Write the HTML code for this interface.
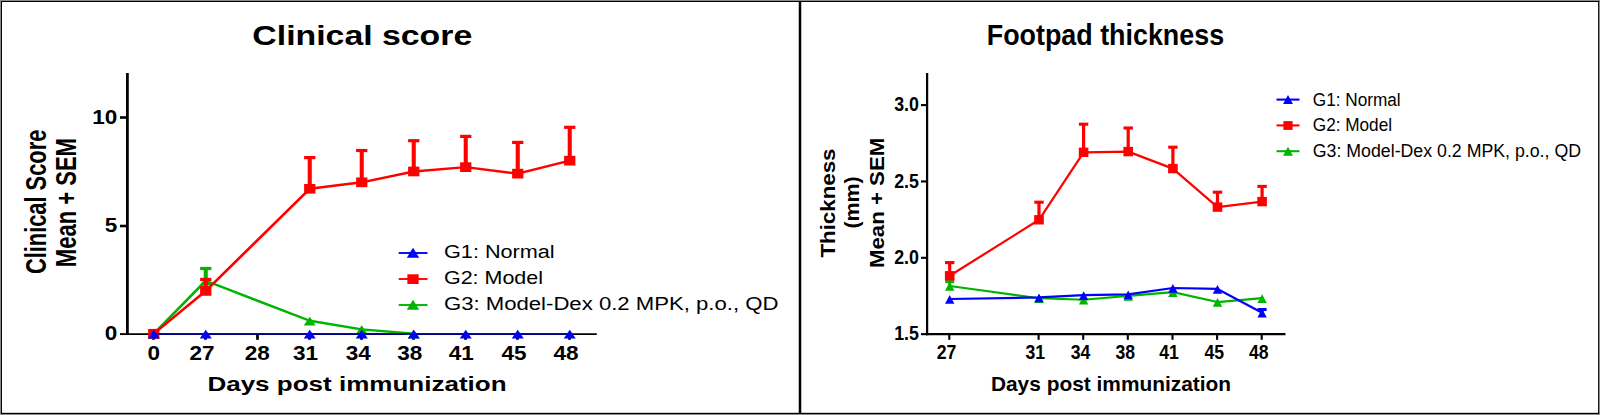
<!DOCTYPE html>
<html><head><meta charset="utf-8"><title>Charts</title>
<style>
html,body{margin:0;padding:0;background:#fff;}
body{width:1600px;height:415px;overflow:hidden;position:relative;}
svg{position:absolute;left:0;top:0;font-family:"Liberation Sans",sans-serif;}
</style></head><body>
<svg width="1600" height="415" viewBox="0 0 1600 415">
<rect x="0" y="0" width="1600" height="415" fill="#8a8a8a"/>
<rect x="1" y="1" width="1598" height="413" fill="#000"/>
<rect x="2" y="2" width="1596.1" height="410.8" fill="#fff"/>
<rect x="798.75" y="1" width="2.5" height="413" fill="#000"/>
<g transform="scale(1.2,1)">
<path d="M106.17 73.0V335.05" fill="none" stroke="#000" stroke-width="2.3"/>
<path d="M105.02 334.1H497.33" fill="none" stroke="#000" stroke-width="1.9"/>
<path d="M127.92 334.1V339.8" stroke="#000" stroke-width="2.3"/>
<path d="M171.25 334.1V339.8" stroke="#000" stroke-width="2.3"/>
<path d="M214.58 334.1V339.8" stroke="#000" stroke-width="2.3"/>
<path d="M257.92 334.1V339.8" stroke="#000" stroke-width="2.3"/>
<path d="M301.25 334.1V339.8" stroke="#000" stroke-width="2.3"/>
<path d="M344.58 334.1V339.8" stroke="#000" stroke-width="2.3"/>
<path d="M387.92 334.1V339.8" stroke="#000" stroke-width="2.3"/>
<path d="M431.25 334.1V339.8" stroke="#000" stroke-width="2.3"/>
<path d="M474.58 334.1V339.8" stroke="#000" stroke-width="2.3"/>
<path d="M100.00 334.10H106.17" stroke="#000" stroke-width="1.9"/>
<path d="M100.00 226.00H106.17" stroke="#000" stroke-width="2.6"/>
<path d="M100.00 117.50H106.17" stroke="#000" stroke-width="2.6"/>
<polyline points="128.12,333.75 171.46,280.74 258.12,320.77 301.46,329.42 344.79,333.75" fill="none" stroke="#00b400" stroke-width="2.4" stroke-linejoin="round"/>
<path d="M171.46 280.74V268.50" fill="none" stroke="#00b400" stroke-width="3.4"/>
<path d="M166.76 268.50H176.16" fill="none" stroke="#00b400" stroke-width="3.2"/>
<path d="M128.12 329.70L133.12 338.60H123.12Z" fill="#00b400"/>
<path d="M171.46 276.69L176.46 285.59H166.46Z" fill="#00b400"/>
<path d="M258.12 316.72L263.12 325.62H253.12Z" fill="#00b400"/>
<path d="M301.46 325.37L306.46 334.27H296.46Z" fill="#00b400"/>
<path d="M344.79 329.70L349.79 338.60H339.79Z" fill="#00b400"/>
<polyline points="128.12,333.75 171.46,290.91 258.12,188.80 301.46,182.31 344.79,171.49 388.12,167.16 431.46,173.65 474.79,160.67" fill="none" stroke="#ff0000" stroke-width="2.4" stroke-linejoin="round"/>
<path d="M171.46 290.91V279.40" fill="none" stroke="#ff0000" stroke-width="3.4"/>
<path d="M166.76 279.40H176.16" fill="none" stroke="#ff0000" stroke-width="3.2"/>
<path d="M258.12 188.80V157.60" fill="none" stroke="#ff0000" stroke-width="3.4"/>
<path d="M253.43 157.60H262.82" fill="none" stroke="#ff0000" stroke-width="3.2"/>
<path d="M301.46 182.31V150.50" fill="none" stroke="#ff0000" stroke-width="3.4"/>
<path d="M296.76 150.50H306.16" fill="none" stroke="#ff0000" stroke-width="3.2"/>
<path d="M344.79 171.49V140.70" fill="none" stroke="#ff0000" stroke-width="3.4"/>
<path d="M340.09 140.70H349.49" fill="none" stroke="#ff0000" stroke-width="3.2"/>
<path d="M388.12 167.16V136.40" fill="none" stroke="#ff0000" stroke-width="3.4"/>
<path d="M383.43 136.40H392.82" fill="none" stroke="#ff0000" stroke-width="3.2"/>
<path d="M431.46 173.65V142.40" fill="none" stroke="#ff0000" stroke-width="3.4"/>
<path d="M426.76 142.40H436.16" fill="none" stroke="#ff0000" stroke-width="3.2"/>
<path d="M474.79 160.67V127.30" fill="none" stroke="#ff0000" stroke-width="3.4"/>
<path d="M470.09 127.30H479.49" fill="none" stroke="#ff0000" stroke-width="3.2"/>
<rect x="123.42" y="328.90" width="9.4" height="9.7" fill="#ff0000"/>
<rect x="166.76" y="286.06" width="9.4" height="9.7" fill="#ff0000"/>
<rect x="253.43" y="183.95" width="9.4" height="9.7" fill="#ff0000"/>
<rect x="296.76" y="177.46" width="9.4" height="9.7" fill="#ff0000"/>
<rect x="340.09" y="166.64" width="9.4" height="9.7" fill="#ff0000"/>
<rect x="383.43" y="162.31" width="9.4" height="9.7" fill="#ff0000"/>
<rect x="426.76" y="168.80" width="9.4" height="9.7" fill="#ff0000"/>
<rect x="470.09" y="155.82" width="9.4" height="9.7" fill="#ff0000"/>
<polyline points="128.12,333.75 171.46,333.75 258.12,333.75 301.46,333.75 344.79,333.75 388.12,333.75 431.46,333.75 474.79,333.75" fill="none" stroke="#0000ff" stroke-width="1.5" stroke-linejoin="round"/>
<path d="M128.12 329.70L133.12 338.60H123.12Z" fill="#0000ff"/>
<path d="M171.46 329.70L176.46 338.60H166.46Z" fill="#0000ff"/>
<path d="M258.12 329.70L263.12 338.60H253.12Z" fill="#0000ff"/>
<path d="M301.46 329.70L306.46 338.60H296.46Z" fill="#0000ff"/>
<path d="M344.79 329.70L349.79 338.60H339.79Z" fill="#0000ff"/>
<path d="M388.12 329.70L393.12 338.60H383.12Z" fill="#0000ff"/>
<path d="M431.46 329.70L436.46 338.60H426.46Z" fill="#0000ff"/>
<path d="M474.79 329.70L479.79 338.60H469.79Z" fill="#0000ff"/>
<path d="M332.25 253H356.25" stroke="#0000ff" stroke-width="1.9"/>
<path d="M344.17 247.8L349.37 257.7H338.97Z" fill="#0000ff"/>
<path d="M332.25 279H356.25" stroke="#ff0000" stroke-width="1.9"/>
<rect x="339.47" y="274.3" width="9.4" height="9.7" fill="#ff0000"/>
<path d="M332.25 305H356.25" stroke="#00b400" stroke-width="1.9"/>
<path d="M344.17 299.8L349.37 309.7H338.97Z" fill="#00b400"/>
</g>
<text transform="translate(153.70,359.55) scale(1.105,1)" font-size="20.4" font-weight="bold" text-anchor="middle" fill="#000">0</text>
<text transform="translate(202.00,359.55) scale(1.105,1)" font-size="20.4" font-weight="bold" text-anchor="middle" fill="#000">27</text>
<text transform="translate(257.30,359.55) scale(1.105,1)" font-size="20.4" font-weight="bold" text-anchor="middle" fill="#000">28</text>
<text transform="translate(305.50,359.55) scale(1.105,1)" font-size="20.4" font-weight="bold" text-anchor="middle" fill="#000">31</text>
<text transform="translate(358.20,359.55) scale(1.105,1)" font-size="20.4" font-weight="bold" text-anchor="middle" fill="#000">34</text>
<text transform="translate(409.80,359.55) scale(1.105,1)" font-size="20.4" font-weight="bold" text-anchor="middle" fill="#000">38</text>
<text transform="translate(461.30,359.55) scale(1.105,1)" font-size="20.4" font-weight="bold" text-anchor="middle" fill="#000">41</text>
<text transform="translate(514.00,359.55) scale(1.105,1)" font-size="20.4" font-weight="bold" text-anchor="middle" fill="#000">45</text>
<text transform="translate(566.00,359.55) scale(1.105,1)" font-size="20.4" font-weight="bold" text-anchor="middle" fill="#000">48</text>
<text transform="translate(117.20,340.40) scale(1.105,1)" font-size="20.4" font-weight="bold" text-anchor="end" fill="#000">0</text>
<text transform="translate(117.20,232.30) scale(1.105,1)" font-size="20.4" font-weight="bold" text-anchor="end" fill="#000">5</text>
<text transform="translate(117.20,123.80) scale(1.105,1)" font-size="20.4" font-weight="bold" text-anchor="end" fill="#000">10</text>
<text transform="translate(362.30,44.60) scale(1.195,1)" font-size="28.3" font-weight="bold" text-anchor="middle" fill="#000">Clinical score</text>
<text transform="translate(357.00,391.25) scale(1.2516,1)" font-size="20.8" font-weight="bold" text-anchor="middle" fill="#000">Days post immunization</text>
<text transform="translate(45.50,201.90) rotate(-90) scale(1.0,1.35)" font-size="21.85" font-weight="bold" text-anchor="middle" fill="#000">Clinical Score</text>
<text transform="translate(75.70,202.60) rotate(-90) scale(1.0,1.34)" font-size="22.05" font-weight="bold" text-anchor="middle" fill="#000">Mean + SEM</text>
<text transform="translate(444.00,258.45) scale(1.203,1)" font-size="18.0" font-weight="normal" text-anchor="start" fill="#000">G1: Normal</text>
<text transform="translate(444.00,284.15) scale(1.193,1)" font-size="18.0" font-weight="normal" text-anchor="start" fill="#000">G2: Model</text>
<text transform="translate(444.00,309.85) scale(1.23,1)" font-size="18.0" font-weight="normal" text-anchor="start" fill="#000">G3: Model-Dex 0.2 MPK, p.o., QD</text>
<path d="M927.1 73V335.2" fill="none" stroke="#000" stroke-width="2.25"/>
<path d="M926.0 334.15H1285.5" fill="none" stroke="#000" stroke-width="2.1"/>
<path d="M949.3 334.15V339.8" stroke="#000" stroke-width="2.1"/>
<text transform="translate(946.50,359.40) scale(0.9,1)" font-size="19.6" font-weight="bold" text-anchor="middle" fill="#000">27</text>
<path d="M1038.6 334.15V339.8" stroke="#000" stroke-width="2.1"/>
<text transform="translate(1035.30,359.40) scale(0.9,1)" font-size="19.6" font-weight="bold" text-anchor="middle" fill="#000">31</text>
<path d="M1083.2 334.15V339.8" stroke="#000" stroke-width="2.1"/>
<text transform="translate(1080.50,359.40) scale(0.9,1)" font-size="19.6" font-weight="bold" text-anchor="middle" fill="#000">34</text>
<path d="M1127.8 334.15V339.8" stroke="#000" stroke-width="2.1"/>
<text transform="translate(1125.20,359.40) scale(0.9,1)" font-size="19.6" font-weight="bold" text-anchor="middle" fill="#000">38</text>
<path d="M1172.5 334.15V339.8" stroke="#000" stroke-width="2.1"/>
<text transform="translate(1169.00,359.40) scale(0.9,1)" font-size="19.6" font-weight="bold" text-anchor="middle" fill="#000">41</text>
<path d="M1217.1 334.15V339.8" stroke="#000" stroke-width="2.1"/>
<text transform="translate(1214.20,359.40) scale(0.9,1)" font-size="19.6" font-weight="bold" text-anchor="middle" fill="#000">45</text>
<path d="M1261.7 334.15V339.8" stroke="#000" stroke-width="2.1"/>
<text transform="translate(1258.70,359.40) scale(0.9,1)" font-size="19.6" font-weight="bold" text-anchor="middle" fill="#000">48</text>
<path d="M921 334.15H927.1" stroke="#000" stroke-width="2.1"/>
<text transform="translate(918.90,340.45) scale(0.9,1)" font-size="19.8" font-weight="bold" text-anchor="end" fill="#000">1.5</text>
<path d="M921 257.80H927.1" stroke="#000" stroke-width="2.1"/>
<text transform="translate(918.90,264.10) scale(0.9,1)" font-size="19.8" font-weight="bold" text-anchor="end" fill="#000">2.0</text>
<path d="M921 181.45H927.1" stroke="#000" stroke-width="2.1"/>
<text transform="translate(918.90,187.75) scale(0.9,1)" font-size="19.8" font-weight="bold" text-anchor="end" fill="#000">2.5</text>
<path d="M921 105.10H927.1" stroke="#000" stroke-width="2.1"/>
<text transform="translate(918.90,111.40) scale(0.9,1)" font-size="19.8" font-weight="bold" text-anchor="end" fill="#000">3.0</text>
<text transform="translate(1105.40,44.70) scale(0.917,1)" font-size="29.3" font-weight="bold" text-anchor="middle" fill="#000">Footpad thickness</text>
<text transform="translate(1111.00,391.25) scale(0.995,1)" font-size="21.0" font-weight="bold" text-anchor="middle" fill="#000">Days post immunization</text>
<text transform="translate(835.00,203.05) rotate(-90) scale(1.145,1.06)" font-size="19.5" font-weight="bold" text-anchor="middle" fill="#000">Thickness</text>
<text transform="translate(859.30,202.50) rotate(-90) scale(1.095,1.06)" font-size="19.5" font-weight="bold" text-anchor="middle" fill="#000">(mm)</text>
<text transform="translate(884.30,202.90) rotate(-90) scale(1.14,1.06)" font-size="19.5" font-weight="bold" text-anchor="middle" fill="#000">Mean + SEM</text>
<polyline points="949.70,286.01 1039.00,298.22 1083.60,299.74 1128.20,295.93 1172.90,292.12 1217.50,302.03 1262.10,298.22" fill="none" stroke="#00b400" stroke-width="2.2" stroke-linejoin="round"/>
<path d="M949.70 286.01V281.60" fill="none" stroke="#00b400" stroke-width="3.0"/>
<path d="M945.20 281.60H954.20" fill="none" stroke="#00b400" stroke-width="3.0"/>
<path d="M949.70 282.01L954.40 290.81H945.00Z" fill="#00b400"/>
<path d="M1039.00 294.22L1043.70 303.02H1034.30Z" fill="#00b400"/>
<path d="M1083.60 295.74L1088.30 304.54H1078.90Z" fill="#00b400"/>
<path d="M1128.20 291.93L1132.90 300.73H1123.50Z" fill="#00b400"/>
<path d="M1172.90 288.12L1177.60 296.92H1168.20Z" fill="#00b400"/>
<path d="M1217.50 298.03L1222.20 306.83H1212.80Z" fill="#00b400"/>
<path d="M1262.10 294.22L1266.80 303.02H1257.40Z" fill="#00b400"/>
<polyline points="949.70,275.80 1039.00,219.80 1083.60,152.30 1128.20,151.60 1172.90,168.60 1217.50,207.10 1262.10,201.60" fill="none" stroke="#ff0000" stroke-width="2.2" stroke-linejoin="round"/>
<path d="M949.70 275.80V262.60" fill="none" stroke="#ff0000" stroke-width="3.2"/>
<path d="M945.00 262.60H954.40" fill="none" stroke="#ff0000" stroke-width="3.1"/>
<path d="M1039.00 219.80V202.20" fill="none" stroke="#ff0000" stroke-width="3.2"/>
<path d="M1034.30 202.20H1043.70" fill="none" stroke="#ff0000" stroke-width="3.1"/>
<path d="M1083.60 152.30V124.20" fill="none" stroke="#ff0000" stroke-width="3.2"/>
<path d="M1078.90 124.20H1088.30" fill="none" stroke="#ff0000" stroke-width="3.1"/>
<path d="M1128.20 151.60V128.00" fill="none" stroke="#ff0000" stroke-width="3.2"/>
<path d="M1123.50 128.00H1132.90" fill="none" stroke="#ff0000" stroke-width="3.1"/>
<path d="M1172.90 168.60V147.20" fill="none" stroke="#ff0000" stroke-width="3.2"/>
<path d="M1168.20 147.20H1177.60" fill="none" stroke="#ff0000" stroke-width="3.1"/>
<path d="M1217.50 207.10V192.20" fill="none" stroke="#ff0000" stroke-width="3.2"/>
<path d="M1212.80 192.20H1222.20" fill="none" stroke="#ff0000" stroke-width="3.1"/>
<path d="M1262.10 201.60V186.40" fill="none" stroke="#ff0000" stroke-width="3.2"/>
<path d="M1257.40 186.40H1266.80" fill="none" stroke="#ff0000" stroke-width="3.1"/>
<rect x="944.90" y="271.10" width="9.6" height="9.4" fill="#ff0000"/>
<rect x="1034.20" y="215.10" width="9.6" height="9.4" fill="#ff0000"/>
<rect x="1078.80" y="147.60" width="9.6" height="9.4" fill="#ff0000"/>
<rect x="1123.40" y="146.90" width="9.6" height="9.4" fill="#ff0000"/>
<rect x="1168.10" y="163.90" width="9.6" height="9.4" fill="#ff0000"/>
<rect x="1212.70" y="202.40" width="9.6" height="9.4" fill="#ff0000"/>
<rect x="1257.30" y="196.90" width="9.6" height="9.4" fill="#ff0000"/>
<polyline points="949.70,298.98 1039.00,297.45 1083.60,295.17 1128.20,294.40 1172.90,288.00 1217.50,288.91 1262.10,312.71" fill="none" stroke="#0000ff" stroke-width="2.2" stroke-linejoin="round"/>
<path d="M1262.10 312.71V309.50" fill="none" stroke="#0000ff" stroke-width="3.0"/>
<path d="M1257.60 309.50H1266.60" fill="none" stroke="#0000ff" stroke-width="3.0"/>
<path d="M949.70 294.98L954.40 303.78H945.00Z" fill="#0000ff"/>
<path d="M1039.00 293.45L1043.70 302.25H1034.30Z" fill="#0000ff"/>
<path d="M1083.60 291.17L1088.30 299.97H1078.90Z" fill="#0000ff"/>
<path d="M1128.20 290.40L1132.90 299.20H1123.50Z" fill="#0000ff"/>
<path d="M1172.90 284.00L1177.60 292.80H1168.20Z" fill="#0000ff"/>
<path d="M1217.50 284.91L1222.20 293.71H1212.80Z" fill="#0000ff"/>
<path d="M1262.10 308.71L1266.80 317.51H1257.40Z" fill="#0000ff"/>
<path d="M1276.5 99.6H1299.5" stroke="#0000ff" stroke-width="2.1"/>
<path d="M1288 95.1L1292.9 104.1H1283.1Z" fill="#0000ff"/>
<text transform="translate(1312.80,105.50) scale(0.91,1)" font-size="18.9" font-weight="normal" text-anchor="start" fill="#000">G1: Normal</text>
<path d="M1276.5 125.39999999999999H1299.5" stroke="#ff0000" stroke-width="2.1"/>
<rect x="1283.4" y="121.1" width="9.2" height="8.8" fill="#ff0000"/>
<text transform="translate(1312.80,131.20) scale(0.91,1)" font-size="18.9" font-weight="normal" text-anchor="start" fill="#000">G2: Model</text>
<path d="M1276.5 151.2H1299.5" stroke="#00b400" stroke-width="2.1"/>
<path d="M1288 146.7L1292.9 155.7H1283.1Z" fill="#00b400"/>
<text transform="translate(1312.80,156.90) scale(0.939,1)" font-size="18.9" font-weight="normal" text-anchor="start" fill="#000">G3: Model-Dex 0.2 MPK, p.o., QD</text>
</svg>
</body></html>
